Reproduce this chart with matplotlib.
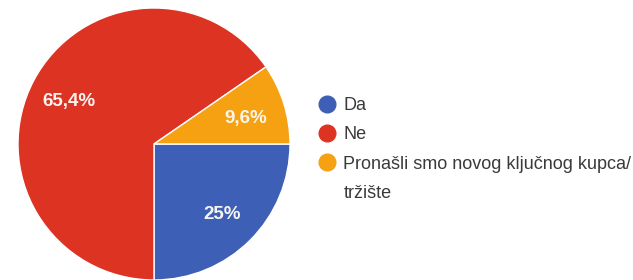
import matplotlib
matplotlib.use("Agg")
import matplotlib.pyplot as plt
from matplotlib.lines import Line2D
import numpy as np

labels = ["Da", "Ne", "Pronašli smo novog ključnog kupca/tržište"]
shares = [25.0, 65.4, 9.6]
pct_text = ["25%", "65,4%", "9,6%"]
colors = ["#3d5fb6", "#dc3323", "#f6a111"]

plt.rcParams["font.family"] = ["Liberation Sans", "DejaVu Sans"]

W, H = 633, 280
fig = plt.figure(figsize=(W / 100, H / 100), dpi=100)
fig.patch.set_facecolor("white")

# pie axes: centre ~ (154, 144) px, radius ~136 px
cx, cy, r = 154, 144, 136
ax = fig.add_axes([(cx - r) / W, (H - cy - r) / H, 2 * r / W, 2 * r / H])
wedges, _ = ax.pie(shares, colors=colors, startangle=0, counterclock=False,
                   radius=1.0, wedgeprops=dict(edgecolor="white", linewidth=1))
ax.set_xlim(-1, 1); ax.set_ylim(-1, 1)
ax.set_aspect("equal")
ax.axis("off")

for w, t in zip(wedges, pct_text):
    mid = np.deg2rad((w.theta1 + w.theta2) / 2)
    ax.text(0.71 * np.cos(mid), 0.71 * np.sin(mid) - 0.02, t, ha="center", va="center",
            color="#f7f5ee", fontsize=13.5, fontweight="bold")

# legend: long label wraps onto a second line, marker sits on the first line
handles = [Line2D([], [], marker="o", linestyle="none", markersize=12,
                  markerfacecolor=c, markeredgecolor=c) for c in colors]
shown = labels[:2] + ["Pronašli smo novog ključnog kupca/"]
handles.append(Line2D([], [], linestyle="none"))
shown.append(labels[2].split("/")[1])
lg = fig.legend(handles, shown, loc="upper left",
                bbox_to_anchor=(319 / W, 1 - 97 / H), frameon=False,
                fontsize=13, handlelength=0.9, handletextpad=0.45,
                labelspacing=0.68, borderpad=0, borderaxespad=0)
for t in lg.get_texts():
    t.set_color("#3a3a3a")

fig.savefig("out.png", dpi=100)
